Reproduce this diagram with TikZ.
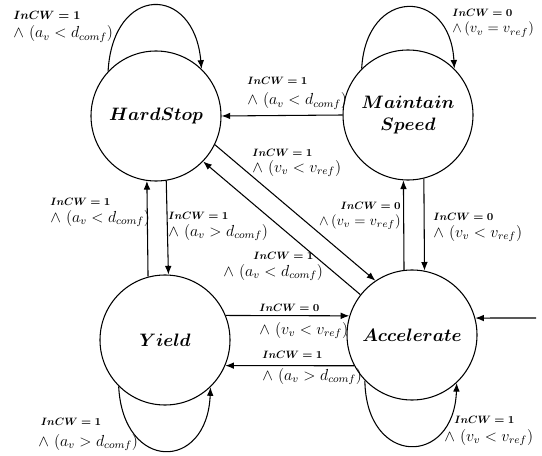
\RequirePackage{fix-cm}
\documentclass[tikz,border=0pt]{standalone}
\usepackage{amsmath}
\usetikzlibrary{arrows.meta}
\begin{document}
\begin{tikzpicture}[x=0.75pt,y=-0.75pt,
  state/.style={circle,draw,line width=0.8pt,minimum size=97.5pt,inner sep=0pt,font=\fontsize{13.5}{17}\selectfont},
  tr/.style={-{Latex[length=6.5pt,width=5pt]},line width=0.8pt},
  lbl/.style={inner sep=0pt,align=left,font=\large,anchor=base west},
  lblr/.style={inner sep=0pt,align=right,font=\large,anchor=base east},
  small lbl/.style={font=\fontsize{10.8}{13}\selectfont},
]
\useasboundingbox (0,0) rectangle (542,456);
% states
\node[state] (hs) at (156,116) {$\boldsymbol{HardStop}$};
\node[state,align=center] (ms) at (408,115) {$\boldsymbol{Maintain}$\\[-0.5pt]$\boldsymbol{Speed}$};
\node[state] (y) at (165,340) {$\boldsymbol{Yield}$};
\node[state] (a) at (412,335) {$\boldsymbol{Accelerate}$};
\coordinate (in) at (536,318);
% self loops
\draw[tr] (hs.137) .. controls (113,-16) and (194,-16) .. (hs.46);
\draw[tr] (ms.135) .. controls (366,-13) and (450,-13) .. (ms.45);
\draw[tr] (y.-135) .. controls (123,472) and (207,472) .. (y.-46);
\draw[tr] (a.-136) .. controls (366,467) and (454,467) .. (a.-47);
% transitions
\draw[tr] (ms.west) -- (hs.east);
\draw[tr] (hs.-26) -- (a.124);
\draw[tr] (a.142) -- (hs.-44);
\draw[tr] (y.105) -- (hs.-98);
\draw[tr] (hs.-81) -- (y.87);
\draw[tr] (a.97) -- (ms.-94);
\draw[tr] (ms.-76) -- (a.79);
\draw[tr] (y.22) -- (a.163);
\draw[tr] (a.-152) -- (y.-23);
\draw[tr] (in) -- (a.15);
% labels (anchored at the baseline of the second line)
\node[lbl] (l1) at (13,38) {{\small$\boldsymbol{InCW=1}$}\\[0pt]$\wedge\ (a_v<d_{comf})$};
\node[lbl,small lbl] (l2) at (452,33) {{\footnotesize$\boldsymbol{InCW=0}$}\\[-1pt]$\wedge\,(v_v=v_{ref})$};
\node[lbl] (l3) at (247,105) {{\footnotesize$\boldsymbol{InCW=1}$}\\[1pt]$\wedge\ (a_v<d_{comf})$};
\node[lbl] (l4) at (252,172) {{\footnotesize$\boldsymbol{InCW=1}$}\\[-2pt]$\wedge\ (v_v<v_{ref})$};
\node[lbl] (l5) at (223,276) {\hspace*{22.5pt}{\footnotesize$\boldsymbol{InCW=1}$}\\[-1.25pt]$\wedge\ (a_v<d_{comf})$};
\node[lblr,small lbl] (l6) at (401,225) {{\footnotesize$\boldsymbol{InCW=0}$}\\[-1pt]$\wedge\,(v_v=v_{ref})$};
\node[lbl] (l7) at (433,237) {{\footnotesize$\boldsymbol{InCW=0}$}\\[-1.75pt]$\wedge\ (v_v<v_{ref})$};
\node[lbl] (l8) at (50,222) {{\footnotesize$\boldsymbol{InCW=1}$}\\[-1.25pt]$\wedge\ (a_v<d_{comf})$};
\node[lbl] (l9) at (168,236) {{\footnotesize$\boldsymbol{InCW=1}$}\\[-1.75pt]$\wedge\ (a_v>d_{comf})$};
\node[lbl] (l10) at (259,334) {{\footnotesize$\boldsymbol{InCW=0}$}\\[3.25pt]$\wedge\ (v_v<v_{ref})$};
\node[lbl] (l11) at (262,380) {{\footnotesize$\boldsymbol{InCW=1}$}\\[2.5pt]$\wedge\ (a_v>d_{comf})$};
\node[lbl] (l12) at (38,446) {\hspace*{2pt}{\footnotesize$\boldsymbol{InCW=1}$}\\[1.75pt]$\wedge\ (a_v>d_{comf})$};
\node[lbl] (l13) at (444,441) {\hspace*{7.5pt}{\footnotesize$\boldsymbol{InCW=1}$}\\[-0.5pt]$\wedge\ (v_v<v_{ref})$};
\end{tikzpicture}
\end{document}
